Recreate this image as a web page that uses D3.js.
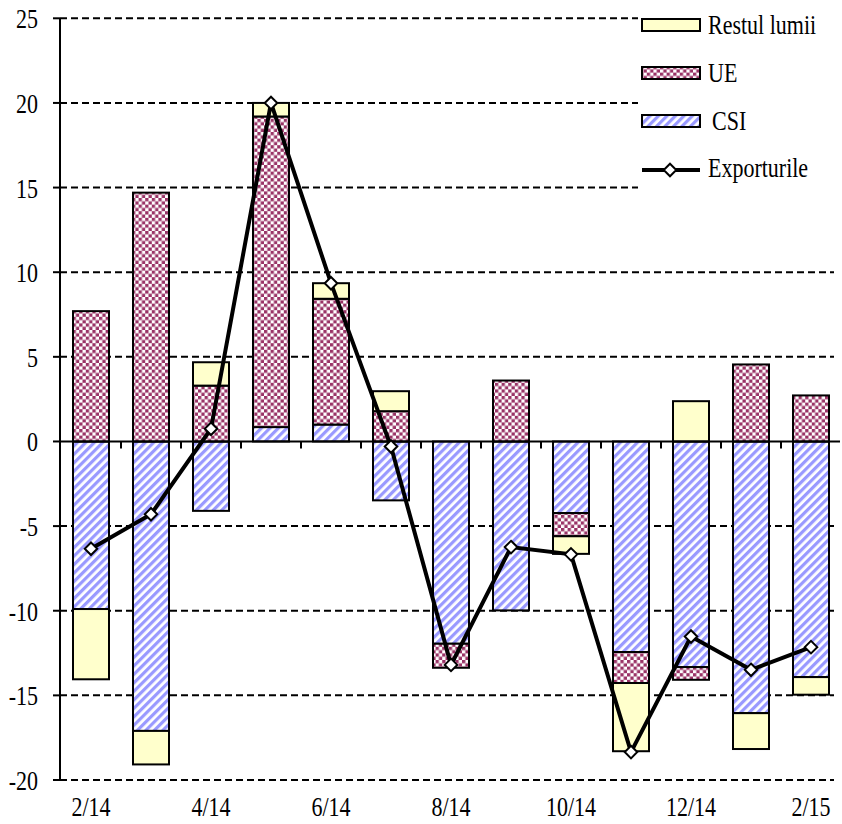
<!DOCTYPE html>
<html><head><meta charset="utf-8">
<script src="https://cdn.jsdelivr.net/npm/d3@7"></script>
<style>body{margin:0;background:#fff;}</style>
</head><body>
<svg id="c" width="842" height="824"></svg>
<script>
const categories = ["2/14","3/14","4/14","5/14","6/14","7/14","8/14","9/14","10/14","11/14","12/14","1/15","2/15"];
const tickLabels = ["2/14","4/14","6/14","8/14","10/14","12/14","2/15"];
const csi  = [-9.9, -17.1, -4.1, 0.85, 1.0, -3.48, -11.95, -9.98, -4.23, -12.44, -13.33, -16.05, -13.92];
const ue   = [7.7, 14.7, 3.3, 18.35, 7.43, 1.79, -1.42, 3.6, -1.37, -1.83, -0.75, 4.55, 2.72];
const rest = [-4.15, -1.98, 1.38, 0.8, 0.92, 1.18, 0, 0, -1.04, -4.03, 2.38, -2.12, -1.04];
const exportsLine = [-6.34, -4.3, 0.75, 20.0, 9.35, -0.3, -13.2, -6.24, -6.67, -18.35, -11.52, -13.49, -12.15];
const yTicks = [25, 20, 15, 10, 5, 0, -5, -10, -15, -20];
const seriesNames = ["CSI", "UE", "Restul lumii"];

const FONT = "'Liberation Serif', 'Times New Roman', Tinos, 'DejaVu Serif', serif";
const svg = d3.select("#c");
const x = d3.scaleBand().domain(categories).range([61, 841]).paddingInner(0.4).paddingOuter(0.2);
const y = d3.scaleLinear().domain([-20, 25]).range([780, 18.3]);
const X0 = 60, X1 = 834;

// patterns
const defs = svg.append("defs");
const pUE = defs.append("pattern").attr("id","pUE").attr("patternUnits","userSpaceOnUse").attr("width",6.6).attr("height",6.6);
pUE.append("rect").attr("width",6.6).attr("height",6.6).attr("fill","#fff");
pUE.append("rect").attr("width",3.3).attr("height",3.3).attr("fill","#993366");
pUE.append("rect").attr("x",3.3).attr("y",3.3).attr("width",3.3).attr("height",3.3).attr("fill","#993366");
const pCSI = defs.append("pattern").attr("id","pCSI").attr("patternUnits","userSpaceOnUse").attr("width",6).attr("height",6).attr("patternTransform","rotate(45)");
pCSI.append("rect").attr("width",6).attr("height",6).attr("fill","#fff");
pCSI.append("rect").attr("width",3.2).attr("height",6).attr("fill","#9999ff");
const fills = {"CSI":"url(#pCSI)", "UE":"url(#pUE)", "Restul lumii":"#ffffcc"};

function txt(g, s, tx, ty, anchor) {
  return g.append("text").attr("transform", `translate(${tx},${ty}) scale(1,1.2)`)
    .attr("font-family", FONT)
    .attr("text-anchor", anchor || "start").attr("font-size", 22).attr("fill", "#000").text(s);
}

// gridlines
svg.append("g").selectAll("line").data(yTicks.filter(v => v !== 0)).join("line")
  .attr("x1", X0).attr("x2", X1).attr("y1", d => y(d)).attr("y2", d => y(d))
  .attr("stroke", "#000").attr("stroke-width", 2).attr("stroke-dasharray", "7,4");

// y axis ticks + labels
const ya = svg.append("g");
ya.selectAll("line").data(yTicks).join("line")
  .attr("x1", 53).attr("x2", X0).attr("y1", d => y(d)).attr("y2", d => y(d))
  .attr("stroke", "#000").attr("stroke-width", 2);
yTicks.forEach(v => txt(ya, String(v), 38, y(v) + 10, "end"));

// stacked bars
const table = categories.map((c, i) => ({cat: c, "CSI": csi[i], "UE": ue[i], "Restul lumii": rest[i]}));
const stack = d3.stack().keys(seriesNames).offset(d3.stackOffsetDiverging)(table);
const bars = svg.append("g");
stack.forEach(s => {
  bars.selectAll(null).data(s.filter(d => Math.abs(d[1] - d[0]) > 0.001)).join("rect")
    .attr("x", d => x(d.data.cat)).attr("width", x.bandwidth())
    .attr("y", d => y(Math.max(d[0], d[1]))).attr("height", d => Math.abs(y(d[0]) - y(d[1])))
    .attr("fill", fills[s.key]).attr("stroke", "#000").attr("stroke-width", 2);
});

// y axis line and zero line
svg.append("line").attr("x1", X0).attr("x2", X0).attr("y1", y(25)).attr("y2", y(-20)).attr("stroke","#000").attr("stroke-width",2);
svg.append("line").attr("x1", X0).attr("x2", 840).attr("y1", y(0)).attr("y2", y(0)).attr("stroke","#000").attr("stroke-width",2);
const step = x.step();
svg.append("g").selectAll("line").data(categories.slice(1)).join("line")
  .attr("x1", d => x(d) - (step - x.bandwidth())/2).attr("x2", d => x(d) - (step - x.bandwidth())/2)
  .attr("y1", y(0)).attr("y2", y(0) + 7).attr("stroke","#000").attr("stroke-width",2);

// x labels
const xl = svg.append("g");
tickLabels.forEach(c => txt(xl, c, x(c) + x.bandwidth()/2, 816, "middle"));

// line
const cx = i => x(categories[i]) + x.bandwidth()/2;
svg.append("path").datum(exportsLine)
  .attr("d", d3.line().x((d, i) => cx(i)).y(d => y(d)))
  .attr("fill","none").attr("stroke","#000").attr("stroke-width",4).attr("stroke-linejoin","miter");
const diamond = d3.symbol().type(d3.symbolDiamond2).size(100);
svg.append("g").selectAll("path").data(exportsLine).join("path")
  .attr("transform", (d, i) => `translate(${cx(i)},${y(d)})`)
  .attr("d", diamond).attr("fill","#fff").attr("stroke","#000").attr("stroke-width",2);

// legend
const lg = svg.append("g");
lg.append("rect").attr("x", 638).attr("y", 0).attr("width", 204).attr("height", 200).attr("fill", "#fff");
const legendItems = ["Restul lumii", "UE", "CSI"];
const legendY = [19, 67, 115];
legendItems.forEach((k, i) => {
  lg.append("rect").attr("x", 642).attr("y", legendY[i]).attr("width", 58).attr("height", 12)
    .attr("fill", fills[k]).attr("stroke", "#000").attr("stroke-width", 2);
  txt(lg, k, k === "CSI" ? 712 : 708, legendY[i] + 15);
});
lg.append("line").attr("x1", 642).attr("x2", 700).attr("y1", 170).attr("y2", 170).attr("stroke","#000").attr("stroke-width",4);
lg.append("path").attr("transform","translate(670,170)").attr("d", diamond).attr("fill","#fff").attr("stroke","#000").attr("stroke-width",2);
txt(lg, "Exporturile", 708, 177);
</script>
</body></html>
